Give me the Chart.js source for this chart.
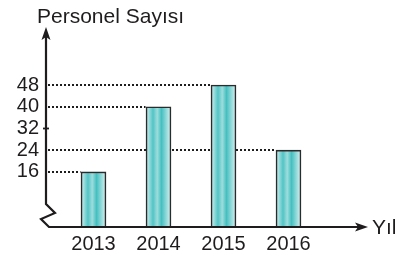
<!DOCTYPE html>
<html>
<head>
<meta charset="utf-8">
<script src="https://cdn.jsdelivr.net/npm/chart.js@4.4.0/dist/chart.umd.min.js"></script>
<style>
  html, body { margin: 0; padding: 0; background: #fff; }
  #wrap { width: 408px; height: 262px; position: relative; }
</style>
</head>
<body>
<div id="wrap"><canvas id="chart"></canvas></div>
<script>
// data
var years = ['2013', '2014', '2015', '2016'];
var personel = [16, 40, 48, 24];
var yTicks = [16, 24, 32, 40, 48];
var dotted = [16, 24, 40, 48]; // values with a dotted guide line
var yMin = -4.3, yMax = 69.4;

var ink = '#1f1c1d';
var font = '"Liberation Sans", Arial, sans-serif';

function barFill(ctx) {
  var chart = ctx.chart;
  var xs = chart.scales.x;
  if (!xs || !chart.chartArea) return '#5cc8c8';
  var cx = xs.getPixelForValue(ctx.dataIndex);
  var g = chart.ctx.createLinearGradient(cx - 12.5, 0, cx + 12.5, 0);
  g.addColorStop(0, '#d6f1f1');
  g.addColorStop(0.28, '#52c4c5');
  g.addColorStop(0.45, '#9edddd');
  g.addColorStop(0.62, '#45bfc0');
  g.addColorStop(1, '#dcf3f3');
  return g;
}

var decor = {
  id: 'decor',
  beforeDatasetsDraw: function(chart) {
    var c = chart.ctx, ys = chart.scales.y, xs = chart.scales.x;
    var ax = chart.chartArea.left - 15;
    c.save();
    c.strokeStyle = ink;
    c.lineWidth = 2;
    c.setLineDash([2, 2]);
    dotted.forEach(function(v) {
      var i = personel.indexOf(v);
      var y = Math.round(ys.getPixelForValue(v));
      var x2 = xs.getPixelForValue(i) - 13;
      c.beginPath();
      c.moveTo(ax + 2, y);
      c.lineTo(x2, y);
      c.stroke();
    });
    c.restore();
  },
  afterDatasetsDraw: function(chart) {
    var c = chart.ctx, ys = chart.scales.y;
    var a = chart.chartArea;
    var ax = a.left - 15;
    var bot = a.bottom;
    c.save();
    c.strokeStyle = ink;
    c.fillStyle = ink;
    c.lineWidth = 2.2;
    c.lineJoin = 'miter';
    // y axis with break
    c.beginPath();
    c.moveTo(ax, a.top + 8);
    c.lineTo(ax, bot - 23);
    c.lineTo(ax + 9, bot - 14);
    c.lineTo(ax - 5, bot - 8);
    c.lineTo(ax + 3, bot);
    c.lineTo(a.right + 40, bot);
    c.stroke();
    // tick at 32
    var y32 = ys.getPixelForValue(32);
    c.lineWidth = 1.8;
    c.beginPath();
    c.moveTo(ax - 3, y32);
    c.lineTo(ax + 3, y32);
    c.stroke();
    // arrow heads
    c.beginPath();
    c.moveTo(ax, a.top);
    c.lineTo(ax - 4.5, a.top + 13);
    c.lineTo(ax, a.top + 10);
    c.lineTo(ax + 4.5, a.top + 13);
    c.closePath();
    c.fill();
    var tipX = a.right + 47;
    c.beginPath();
    c.moveTo(tipX, bot);
    c.lineTo(tipX - 13, bot - 4.5);
    c.lineTo(tipX - 10, bot);
    c.lineTo(tipX - 13, bot + 4.5);
    c.closePath();
    c.fill();
    // axis titles
    c.font = '21px ' + font;
    c.textBaseline = 'alphabetic';
    c.textAlign = 'left';
    c.fillText('Personel Sayısı', ax - 9, 23);
    c.fillText('Yıl', tipX + 4, bot + 7);
    c.restore();
  }
};

new Chart(document.getElementById('chart'), {
  type: 'bar',
  data: {
    labels: years,
    datasets: [{
      data: personel,
      base: yMin,
      backgroundColor: barFill,
      borderColor: '#2b2b2b',
      borderWidth: 1.6,
      borderSkipped: 'bottom',
      barThickness: 25
    }]
  },
  options: {
    responsive: true,
    maintainAspectRatio: false,
    animation: false,
    layout: { padding: { top: 27, right: 87, left: 0, bottom: 0 } },
    plugins: { legend: { display: false }, tooltip: { enabled: false } },
    scales: {
      x: {
        grid: { display: false, drawTicks: false },
        border: { display: false },
        ticks: { color: ink, font: { family: font, size: 20 }, padding: 5 },
        afterFit: function(s) { s.height = 35; s.paddingLeft = 0; s.paddingRight = 0; }
      },
      y: {
        min: yMin,
        max: yMax,
        grid: { display: false, drawTicks: false },
        border: { display: false },
        ticks: { color: ink, font: { family: font, size: 20 }, padding: 22 },
        afterBuildTicks: function(s) { s.ticks = yTicks.map(function(v) { return { value: v }; }); },
        afterFit: function(s) { s.width = 61; s.paddingTop = 0; s.paddingBottom = 0; }
      }
    }
  },
  plugins: [decor]
});
</script>
</body>
</html>
